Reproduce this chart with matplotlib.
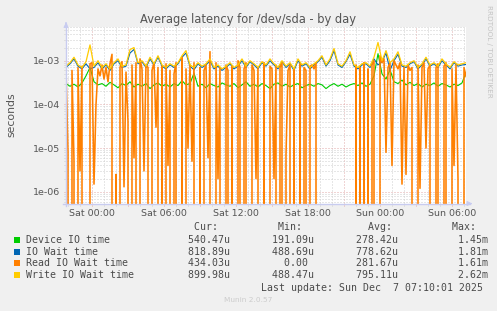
import numpy as np
import matplotlib
matplotlib.use("Agg")
import matplotlib.pyplot as plt
from matplotlib.patches import Rectangle
from matplotlib.ticker import NullLocator

# ---------------- data (values in microseconds) ----------------
# time origin: Sat 00:00 = 0 h ; first sample Fri 21:50
t_start_hours = -13 / 6
read_step_hours = 1 / 6      # 10 min samples
other_step_hours = 1 / 3     # 20 min samples

read_io_us = [
    650, 8, 0, 600, 5, 0, 700, 3, 750, 0, 0, 0, 850, 900, 1.5, 100, 650, 450, 800, 380,
    700, 330, 850, 1400, 0, 2.5, 0, 700, 950, 1.3, 550, 40, 0, 800, 6, 900, 0, 1100, 650, 3,
    800, 700, 0, 600, 900, 30, 700, 0, 750, 0, 850, 4, 600, 0, 500, 900, 0, 0, 1200, 0,
    650, 10, 800, 5, 900, 0, 0, 700, 0, 600, 800, 6, 1610, 0, 0, 900, 2, 700, 0, 0,
    800, 600, 0, 750, 0, 0, 1000, 700, 0, 650, 900, 0, 0, 800, 600, 2, 700, 0, 0, 900,
    0, 0, 750, 650, 2, 800, 0, 700, 900, 0, 7, 600, 800, 0, 650, 0, 0, 850, 0, 700,
    600, 0, 750, 800, 650, 900, 0, 0, 0, 0, 0, 0, 0, 0, 0, 0, 0, 0, 0, 0,
    0, 0, 0, 0, 0, 800, 0, 700, 0, 900, 0, 650, 0, 800, 1000, 0, 0, 1300, 900, 1100,
    8, 700, 900, 4, 1000, 800, 650, 900, 1.5, 700, 2.5, 800, 600, 700, 0, 0, 800, 1.2, 700, 900,
    10, 650, 800, 0, 0, 700, 850, 0, 0, 750, 900, 0, 0, 650, 4, 800, 2, 0, 0, 700,
    434,
]

device_io_us = [
    300, 260, 290, 250, 310, 450, 700, 330, 280, 300, 260, 320, 280, 240, 300, 270, 330, 250, 290, 260,
    300, 230, 280, 310, 260, 290, 250, 300, 270, 350, 280, 300, 520, 260, 290, 240, 300, 270, 250, 310,
    280, 260, 300, 240, 280, 330, 260, 290, 250, 300, 270, 230, 290, 310, 260, 290, 250, 280, 300, 240,
    270, 290, 260, 300, 280, 230, 270, 300, 260, 290, 250, 280, 300, 270, 310, 260, 290, 450, 1450, 500,
    380, 620, 330, 300, 360, 280, 320, 270, 300, 250, 290, 270, 310, 260, 300, 280, 250, 290, 270, 310,
    540,
]

io_wait_us = [
    700, 850, 1100, 750, 650, 850, 650, 700, 900, 650, 800, 600, 850, 1000, 700, 750, 1500, 1810, 850, 950,
    700, 1100, 800, 1200, 750, 650, 800, 700, 850, 1200, 1500, 750, 620, 850, 700, 800, 1000, 650, 750, 600,
    700, 850, 650, 750, 1000, 700, 950, 800, 650, 900, 750, 1000, 800, 650, 950, 700, 850, 600, 1000, 750,
    850, 650, 800, 950, 1200, 750, 1000, 1700, 800, 700, 950, 1400, 750, 650, 800, 850, 700, 1100, 800, 950,
    1500, 600, 1000, 1400, 750, 700, 850, 950, 650, 800, 1100, 750, 850, 700, 1000, 800, 650, 900, 750, 800,
    819,
]

write_io_us = [
    750, 900, 1200, 800, 700, 950, 2300, 750, 1000, 700, 850, 650, 900, 1100, 750, 800, 1800, 2000, 900, 1000,
    750, 1200, 850, 1300, 800, 700, 850, 750, 900, 1300, 1700, 800, 700, 900, 750, 850, 1100, 700, 800, 650,
    750, 900, 700, 800, 1100, 750, 1000, 850, 700, 950, 800, 1100, 850, 700, 1000, 750, 900, 650, 1100, 800,
    900, 700, 850, 1000, 1300, 800, 1100, 1900, 850, 750, 1000, 1600, 800, 700, 850, 900, 750, 1200, 2620, 1000,
    1700, 900, 1100, 1600, 800, 750, 900, 1000, 700, 850, 1200, 800, 900, 750, 1100, 850, 700, 950, 800, 850,
    900,
]

series_labels = ["Device IO time", "IO Wait time", "Read IO Wait time", "Write IO Wait time"]
series_colors = ["#00CC00", "#0066B3", "#FF8000", "#FFCC00"]
cur_vals = ["540.47u", "818.89u", "434.03u", "899.98u"]
min_vals = ["191.09u", "488.69u", "0.00 ", "488.47u"]
avg_vals = ["278.42u", "778.62u", "281.67u", "795.11u"]
max_vals = ["1.45m", "1.81m", "1.61m", "2.62m"]

x_tick_hours = [0, 6, 12, 18, 24, 30]
x_tick_labels = ["Sat 00:00", "Sat 06:00", "Sat 12:00", "Sat 18:00", "Sun 00:00", "Sun 06:00"]
y_tick_vals = [1e-6, 1e-5, 1e-4, 1e-3]
y_tick_labels = ["1e-06", "1e-05", "1e-04", "1e-03"]

title = "Average latency for /dev/sda - by day"
last_update = "Last update: Sun Dec  7 07:10:01 2025"

# ---------------- figure ----------------
W, H = 497, 311
fig = plt.figure(figsize=(W / 100, H / 100), dpi=100, facecolor="#F0F0F0")

L_px, R_px, T_px, B_px = 66, 466, 26.7, 203.5
ax = fig.add_axes([L_px / W, 1 - B_px / H, (R_px - L_px) / W, (B_px - T_px) / H])
ax.set_facecolor("white")
for s in ax.spines.values():
    s.set_visible(False)

n_read = len(read_io_us)
t_read = t_start_hours + np.arange(n_read) * read_step_hours
t_other = t_start_hours + np.arange(len(device_io_us)) * other_step_hours

ax.set_xlim(t_start_hours, t_start_hours + (n_read - 1) * read_step_hours)
ax.set_yscale("log", nonpositive="clip")
ax.set_ylim(5.4e-7, 6e-3)

# grid
minor_c = "#CFCFCF"
major_c = "#E3AAAA"
gkw = dict(lw=0.72, dashes=(1, 2), zorder=0.5, clip_on=False)
for h in range(-2, 32):
    ax.axvline(h, ymin=-0.012, ymax=1, color=(major_c if h % 3 == 0 else minor_c), **gkw)
for e in range(-7, -2):
    for m in range(1, 10):
        v = m * 10.0 ** e
        if 5.4e-7 <= v <= 6e-3:
            ax.axhline(v, xmin=-0.006, xmax=1, color=(major_c if m == 1 else minor_c), **gkw)

# data
us = 1e-6
ax.plot(t_other, np.array(device_io_us) * us, color=series_colors[0], lw=0.8, zorder=2)
ax.plot(t_other, np.array(io_wait_us) * us, color=series_colors[1], lw=0.8, zorder=3)
ax.plot(t_read, np.array(read_io_us) * us, color=series_colors[2], lw=1.15, zorder=4)
ax.plot(t_other, np.array(write_io_us) * us, color=series_colors[3], lw=0.9, zorder=5)

# ticks
ax.set_xticks(x_tick_hours)
ax.set_xticklabels(x_tick_labels)
ax.set_yticks(y_tick_vals)
ax.set_yticklabels(y_tick_labels)
ax.yaxis.set_minor_locator(NullLocator())
ax.xaxis.set_minor_locator(NullLocator())
ax.tick_params(axis="x", length=0, pad=4.0, labelsize=6.8, labelcolor="#555555")
ax.tick_params(axis="y", length=0, pad=4.3, labelsize=6.8, labelcolor="#555555")

# axis arrows
axis_c = "#C8CCF0"
fig.add_artist(plt.Line2D([L_px / W, L_px / W], [1 - 206 / H, 1 - 24 / H], color=axis_c, lw=1.0))
fig.add_artist(plt.Line2D([63 / W, 470 / W], [1 - B_px / H, 1 - B_px / H], color=axis_c, lw=1.0))
ax.annotate("", xy=(L_px, H - 19.5), xytext=(L_px, H - 26), xycoords="figure pixels",
            arrowprops=dict(arrowstyle="-|>", color=axis_c, lw=0.8, mutation_scale=7))
ax.annotate("", xy=(475, H - B_px), xytext=(468, H - B_px), xycoords="figure pixels",
            arrowprops=dict(arrowstyle="-|>", color=axis_c, lw=0.8, mutation_scale=7))

# texts
fig.text(248 / W, 1 - 23 / H, title, ha="center", va="baseline", fontsize=8.3, color="#555555")
fig.text(11 / W, 1 - 114.5 / H, "seconds", rotation=90, ha="center", va="center",
         fontsize=7.8, color="#555555")
fig.text(489 / W, 1 - 5 / H, "RRDTOOL / TOBI OETIKER", rotation=270, ha="center", va="top",
         fontsize=5.2, color="#C4C4C4")
fig.text(248 / W, 1 - 300 / H, "Munin 2.0.57", ha="center", va="center", fontsize=5.3, color="#CCCCCC")

mono = dict(family="DejaVu Sans Mono", fontsize=7.1, color="#4A4A4A")
x0 = 26
header = " " * 28 + "Cur:" + " " * 10 + "Min:" + " " * 11 + "Avg:" + " " * 10 + "Max:"
fig.text(x0 / W, 1 - 227.3 / H, header, ha="left", va="center", **mono)
row_y = [240, 251.7, 263.3, 275.3]
for lab, col, c, mn, av, mx, y in zip(series_labels, series_colors, cur_vals, min_vals,
                                      avg_vals, max_vals, row_y):
    row = f"{lab:<27}{c:>7}{mn:>14}{av:>14}{mx:>15}"
    fig.text(x0 / W, 1 - y / H, row, ha="left", va="center", **mono)
    fig.add_artist(Rectangle((14 / W, 1 - (y + 3) / H), 6 / W, 6 / H, transform=fig.transFigure,
                             facecolor=col, edgecolor="none"))
fig.text(483.4 / W, 1 - 287.7 / H, last_update, ha="right", va="center", **mono)

fig.savefig("out.png", dpi=100, facecolor=fig.get_facecolor())
